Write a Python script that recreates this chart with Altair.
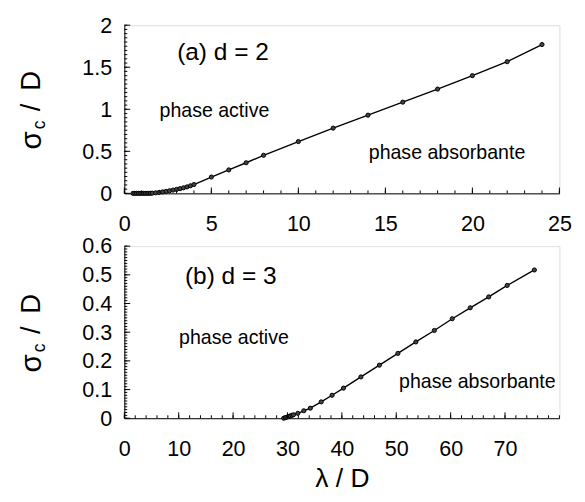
import altair as alt
import pandas as pd
import numpy as np

# ---- data ----
lam_a = [0.5, 0.6, 0.7, 0.8, 0.9, 1.0, 1.1, 1.2, 1.3, 1.4, 1.5, 1.6,
         1.8, 2.0, 2.2, 2.4, 2.6, 2.8, 3.0, 3.2, 3.4, 3.6, 3.8, 4.0,
         5, 6, 7, 8, 10, 12, 14, 16, 18, 20, 22, 24]
sig_a = [0, 0, 0, 0, 0, 0, 0, 0, 0, 0, 0.001, 0.002,
         0.006, 0.011, 0.017, 0.024, 0.031, 0.039, 0.047, 0.056, 0.066, 0.077, 0.090, 0.105,
         0.194, 0.279, 0.364, 0.453, 0.616, 0.776, 0.930, 1.085, 1.240, 1.400, 1.566, 1.770]

lam_b = [29.3, 29.6, 29.9, 30.2, 30.5, 30.8, 31.1, 31.9, 33.0, 34.2, 36.2, 38.2,
         40.3, 43.5, 46.9, 50.3, 53.6, 57.0, 60.3, 63.6, 67.0, 70.4, 75.4]
sig_b = [0.0, 0.002, 0.004, 0.006, 0.008, 0.010, 0.012, 0.017, 0.026, 0.035, 0.057, 0.080,
         0.105, 0.144, 0.185, 0.226, 0.266, 0.306, 0.347, 0.385, 0.423, 0.463, 0.517]

x_labels_a = [0, 5, 10, 15, 20, 25]
y_labels_a = [0, 0.5, 1, 1.5, 2]
x_labels_b = [0, 10, 20, 30, 40, 50, 60, 70]
y_labels_b = [0, 0.1, 0.2, 0.3, 0.4, 0.5, 0.6]

FONT = "Liberation Sans"
W = 445


def ticks_layer(vals, axis, H, length, xscale, yscale, ax):
    df = pd.DataFrame({"t": vals})
    if axis == "x":
        enc = dict(x=alt.X("t:Q", scale=xscale, axis=ax), y=alt.value(H), y2=alt.value(H - length))
    else:
        enc = dict(y=alt.Y("t:Q", scale=yscale, axis=ax), x=alt.value(0), x2=alt.value(length))
    return alt.Chart(df).mark_rule(color="black", strokeWidth=1).encode(**enc)


def label(txt, x, y, size, align="left", angle=0):
    return alt.Chart(pd.DataFrame({"a": [0]})).mark_text(
        text=txt, font=FONT, fontSize=size, align=align, baseline="middle",
        angle=angle, color="black").encode(x=alt.value(x), y=alt.value(y))


def panel(lam, sig, xdom, ydom, H, xlabs, ylabs, xminor, yminor, tag, act, absb, show_title):
    xscale = alt.Scale(domain=xdom, nice=False, zero=False)
    yscale = alt.Scale(domain=ydom, nice=False)
    df = pd.DataFrame({"lam": lam, "sig": sig})
    xaxis = alt.Axis(values=xlabs, ticks=False, grid=False, domainColor="black",
                     labelFontSize=22, labelFont=FONT, labelPadding=21, labelColor="black",
                     title="λ / D" if show_title else None, titleFont=FONT, titleFontSize=27,
                     titleFontWeight="normal", titlePadding=7, titleColor="black",
                     labelFlush=False, labelOverlap=False)
    yaxis = alt.Axis(values=ylabs, ticks=False, grid=False, domainColor="black", format="~g",
                     labelFontSize=22, labelFont=FONT, labelPadding=13, labelColor="black",
                     title=None, labelFlush=False, labelOverlap=False)
    base = alt.Chart(df).encode(
        x=alt.X("lam:Q", scale=xscale, axis=xaxis),
        y=alt.Y("sig:Q", scale=yscale, axis=yaxis),
    )
    line = base.mark_line(color="black", strokeWidth=1.4)
    pts = base.mark_circle(size=18, color="#444", stroke="black", strokeWidth=1, opacity=1)
    layers = [line, pts,
              ticks_layer(xminor, "x", H, 3, xscale, yscale, xaxis),
              ticks_layer(xlabs, "x", H, 6, xscale, yscale, xaxis),
              ticks_layer(yminor, "y", H, 3, xscale, yscale, yaxis),
              ticks_layer(ylabs, "y", H, 6, xscale, yscale, yaxis)]
    layers += [label(tag[0], tag[1], tag[2], 25),
               label(act[0], act[1], act[2], 20),
               label(absb[0], absb[1], absb[2], 20)]
    c = H / 2
    layers += [label("σ", -94, c + 32, 30, "center", 270),
               label("c", -86, c + 16, 18, "center", 270),
               label("/", -94, c - 2, 28, "center", 270),
               label("D", -94, c - 29, 28, "center", 270)]
    return alt.layer(*layers).properties(width=W, height=H)


top = panel(lam_a, sig_a, [0, 25], [0, 2], 172, x_labels_a, y_labels_a,
            list(np.arange(0, 25.01, 1)), list(np.round(np.arange(0, 2.001, 0.05), 3)),
            ("(a) d = 2", 54, 28), ("phase active", 36, 88), ("phase absorbante", 250, 131), False)
bottom = panel(lam_b, sig_b, [0, 80], [0, 0.6], 176, x_labels_b, y_labels_b,
               list(np.arange(0, 80.01, 2)), list(np.round(np.arange(0, 0.6001, 0.01), 3)),
               ("(b) d = 3", 62, 31), ("phase active", 56, 94), ("phase absorbante", 281, 139), True)

chart = alt.vconcat(top, bottom, spacing=-1).properties(
    padding={"left": 9, "top": 0, "right": 5, "bottom": 0}
).configure_view(stroke="#888", strokeWidth=1).configure(background="white")

chart.save("out.html", embed_options={"renderer": "svg", "actions": False})
